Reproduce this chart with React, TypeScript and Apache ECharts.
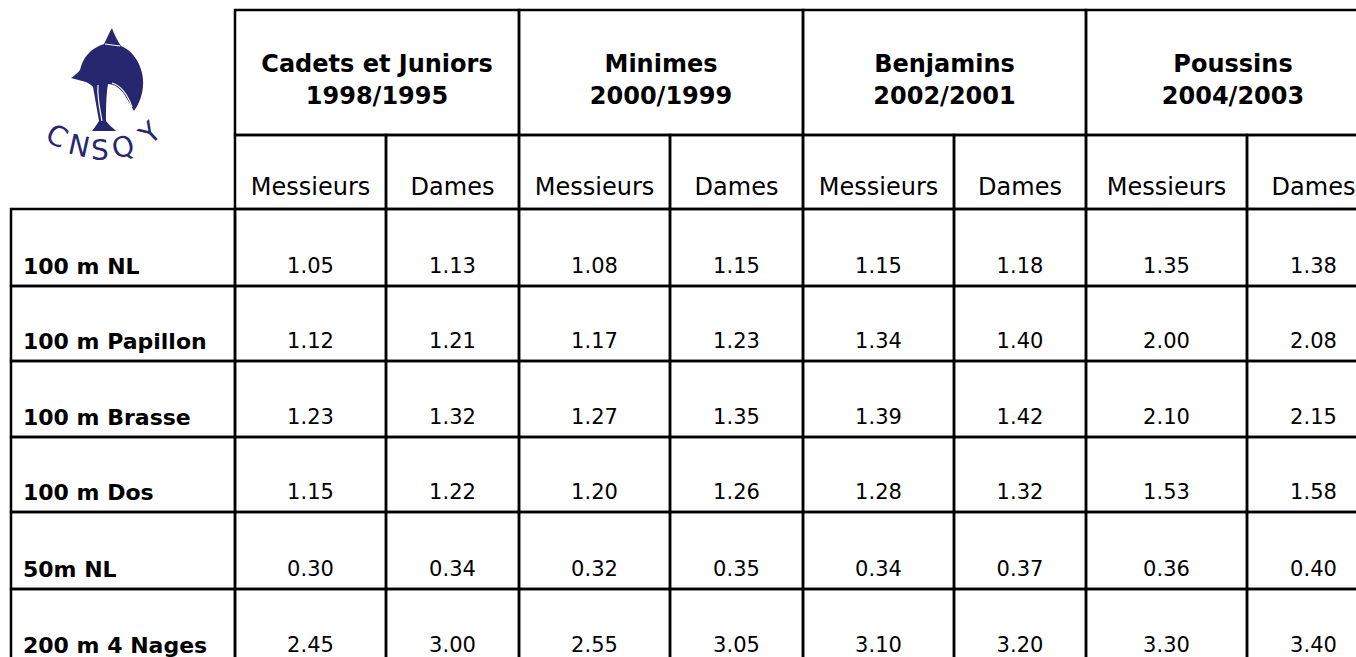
import React, { useEffect, useRef } from "react";
import * as echarts from "echarts";

// ---------- data ----------
const groups = ["Cadets et Juniors", "Minimes", "Benjamins", "Poussins"];
const groupYears = ["1998/1995", "2000/1999", "2002/2001", "2004/2003"];
const genders = ["Messieurs", "Dames"];
const events = ["100 m NL", "100 m Papillon", "100 m Brasse", "100 m Dos", "50m NL", "200 m 4 Nages"];

const cadetsMessieurs = [1.05, 1.12, 1.23, 1.15, 0.3, 2.45];
const cadetsDames = [1.13, 1.21, 1.32, 1.22, 0.34, 3.0];
const minimesMessieurs = [1.08, 1.17, 1.27, 1.2, 0.32, 2.55];
const minimesDames = [1.15, 1.23, 1.35, 1.26, 0.35, 3.05];
const benjaminsMessieurs = [1.15, 1.34, 1.39, 1.28, 0.34, 3.1];
const benjaminsDames = [1.18, 1.4, 1.42, 1.32, 0.37, 3.2];
const poussinsMessieurs = [1.35, 2.0, 2.1, 1.53, 0.36, 3.3];
const poussinsDames = [1.38, 2.08, 2.15, 1.58, 0.4, 3.4];

const columns = [
  cadetsMessieurs, cadetsDames,
  minimesMessieurs, minimesDames,
  benjaminsMessieurs, benjaminsDames,
  poussinsMessieurs, poussinsDames,
];

// ---------- layout (axis units = pixels) ----------
const W = 1356;
const H = 657;
const colEdges = [11, 235, 386, 519, 670, 803, 954, 1086, 1247, 1380];
const rowEdges = [10, 135, 209, 286, 361, 437, 512, 589, 665];

const FONT = "'DejaVu Sans', Verdana, sans-serif";
const NAVY = "#27276f";
const LINE = { fill: "none", stroke: "#000", lineWidth: 2.5 };

const DOLPHIN =
  "M112 28 C114 34 117 40 121 46 C131 50 139 60 142 73 C145 86 142 100 134 111 " +
  "C131 106 128 100 124 94 C120 88 114 84 108 84 C106 96 106 110 106 121 " +
  "C109 125 113 128 116 131 L92 131 C95 127 97 124 99 121 C97 110 95 98 93 87 " +
  "C90 84 88 83 86 82 L71 78 C75 75 78 73 80 70 C83 57 91 48 104 44 " +
  "C107 38 109 33 112 28 Z";

let registered = false;
function ensureShapes() {
  if (registered) return;
  registered = true;
  echarts.graphic.registerShape("dolphin", echarts.graphic.extendPath(DOLPHIN, {}));
}

function box(api: any, x0: number, y0: number, x1: number, y1: number) {
  const p0 = api.coord([x0, y0]);
  const p1 = api.coord([x1, y1]);
  return { x: p0[0], y: p0[1], width: p1[0] - p0[0], height: p1[1] - p0[1] };
}

function textEl(text: string, x: number, y: number, size: number, bold: boolean, align = "center") {
  return {
    type: "text",
    style: {
      text,
      x,
      y,
      fill: "#000",
      fontFamily: FONT,
      fontSize: size,
      fontWeight: bold ? "bold" : "normal",
      align,
      verticalAlign: "middle",
    },
  };
}

export default function App() {
  const ref = useRef<HTMLDivElement>(null);

  useEffect(() => {
    ensureShapes();
    const chart = echarts.init(ref.current!, null, { renderer: "svg" });

    const groupData = groups.map((_, g) => [g, 0]);
    const subData: number[][] = [];
    for (let g = 0; g < groups.length; g++) for (let s = 0; s < genders.length; s++) subData.push([g * 2 + s, 1]);
    const labelData = events.map((_, r) => [0, r]);
    const cellData: number[][] = [];
    columns.forEach((col, c) => col.forEach((_, r) => cellData.push([c, r])));

    const letters = [
      { ch: "C", x: 57, y: 136, rot: -0.5 },
      { ch: "N", x: 79, y: 146, rot: -0.22 },
      { ch: "S", x: 100, y: 150, rot: 0.0 },
      { ch: "Q", x: 123, y: 147, rot: 0.25 },
      { ch: "Y", x: 150, y: 133, rot: 0.75 },
    ];

    const whiteLine = { stroke: "#fff", lineWidth: 1.2, fill: "none" };

    chart.setOption({
      animation: false,
      backgroundColor: "#fff",
      grid: { left: 0, right: 0, top: 0, bottom: 0 },
      xAxis: { type: "value", min: 0, max: W, show: false },
      yAxis: { type: "value", min: 0, max: H, inverse: true, show: false },
      tooltip: { show: false },
      graphic: [
        { type: "dolphin", x: 0, y: 0, style: { fill: NAVY }, silent: true },
        { type: "line", shape: { x1: 105, y1: 44, x2: 120, y2: 46 }, style: whiteLine, silent: true },
        {
          type: "bezierCurve",
          shape: { x1: 112, y1: 83, x2: 132, y2: 107, cpx1: 122, cpy1: 86, cpx2: 128, cpy2: 96 },
          style: whiteLine,
          silent: true,
        },
        {
          type: "bezierCurve",
          shape: { x1: 98, y1: 85, x2: 102, y2: 121, cpx1: 97, cpy1: 98, cpx2: 100, cpy2: 110 },
          style: whiteLine,
          silent: true,
        },
        ...letters.map((l) => ({
          type: "text",
          x: l.x,
          y: l.y,
          rotation: l.rot,
          silent: true,
          style: {
            text: l.ch,
            fill: NAVY,
            fontFamily: FONT,
            fontSize: 28,
            fontWeight: "normal",
            align: "center",
            verticalAlign: "middle",
          },
        })),
      ],
      series: [
        {
          type: "custom",
          name: "groups",
          clip: false,
          silent: true,
          data: groupData,
          renderItem: (params: any, api: any) => {
            const g = api.value(0);
            const b = box(api, colEdges[1 + g * 2], rowEdges[0], colEdges[3 + g * 2], rowEdges[1]);
            const cx = b.x + b.width / 2;
            return {
              type: "group",
              children: [
                { type: "rect", shape: b, style: LINE },
                textEl(groups[g], cx, b.y + 54, 24, true),
                textEl(groupYears[g], cx, b.y + 86, 24, true),
              ],
            };
          },
        },
        {
          type: "custom",
          name: "genders",
          clip: false,
          silent: true,
          data: subData,
          renderItem: (params: any, api: any) => {
            const c = api.value(0);
            const b = box(api, colEdges[1 + c], rowEdges[1], colEdges[2 + c], rowEdges[2]);
            return {
              type: "group",
              children: [
                { type: "rect", shape: b, style: LINE },
                textEl(genders[c % 2], b.x + b.width / 2, b.y + b.height - 22, 24, false),
              ],
            };
          },
        },
        {
          type: "custom",
          name: "events",
          clip: false,
          silent: true,
          data: labelData,
          renderItem: (params: any, api: any) => {
            const r = api.value(1);
            const b = box(api, colEdges[0], rowEdges[2 + r], colEdges[1], rowEdges[3 + r]);
            return {
              type: "group",
              children: [
                { type: "rect", shape: b, style: LINE },
                textEl(events[r], b.x + 12, b.y + b.height - 20, 22, true, "left"),
              ],
            };
          },
        },
        {
          type: "custom",
          name: "values",
          clip: false,
          silent: true,
          data: cellData,
          renderItem: (params: any, api: any) => {
            const c = api.value(0);
            const r = api.value(1);
            const b = box(api, colEdges[1 + c], rowEdges[2 + r], colEdges[2 + c], rowEdges[3 + r]);
            return {
              type: "group",
              children: [
                { type: "rect", shape: b, style: LINE },
                textEl(columns[c][r].toFixed(2), b.x + b.width / 2, b.y + b.height - 20, 21, false),
              ],
            };
          },
        },
      ],
    });

    return () => chart.dispose();
  }, []);

  return (
    <div
      ref={ref}
      style={{ position: "absolute", left: 0, top: 0, width: W, height: H, background: "#fff" }}
    />
  );
}
